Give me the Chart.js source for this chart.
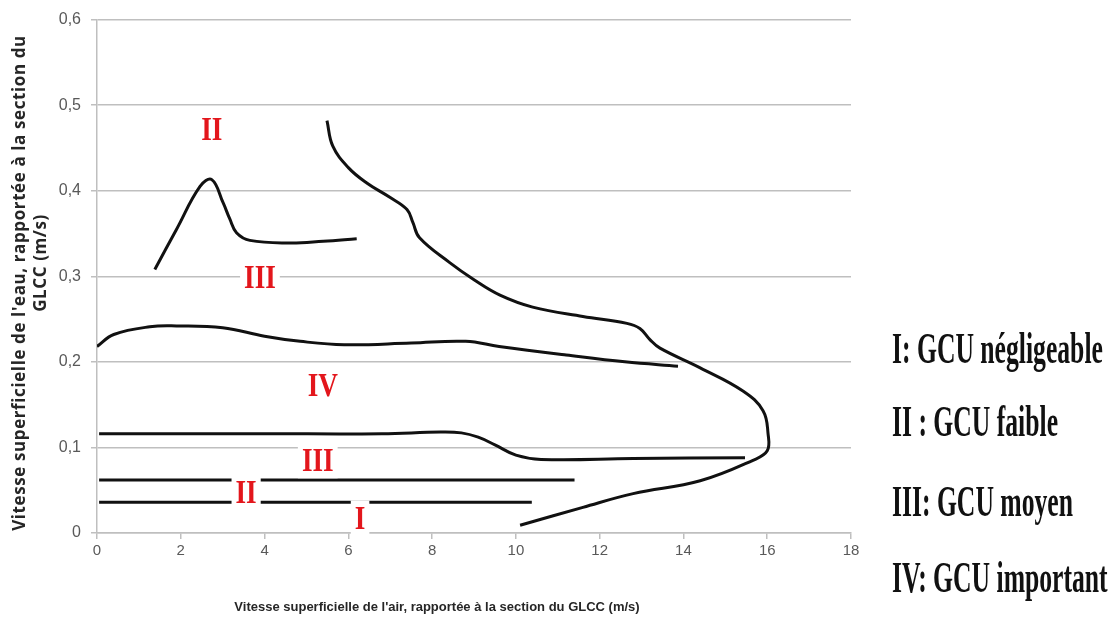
<!DOCTYPE html>
<html>
<head>
<meta charset="utf-8">
<script src="https://cdn.jsdelivr.net/npm/chart.js@4"></script>
<style>
  body { margin: 0; background: #fff; }
  #wrap { position: relative; width: 1115px; height: 625px; }
  .leg {
    position: absolute; left: 892px; white-space: nowrap;
    font-family: 'Liberation Serif', 'DejaVu Serif', serif; font-weight: bold;
    font-size: 45px; line-height: 45px; color: #111;
    transform: scaleX(0.57); transform-origin: left center;
  }
  .titre {
    position: absolute; white-space: nowrap; text-align: center;
    font-weight: bold; color: #262626;
  }
  .ty {
    width: 600px; height: 22px; line-height: 22px;
    font-family: 'Open Sans', sans-serif; font-size: 17px; letter-spacing: 0.6px;
    transform: rotate(-90deg); transform-origin: center center;
  }
  .tx {
    left: 182px; top: 598px; width: 510px; height: 18px; line-height: 18px;
    font-family: 'Liberation Sans', sans-serif; font-size: 13px;
  }
</style>
</head>
<body>
<div id="wrap">
  <canvas id="chart" width="1115" height="625"></canvas>
  <div class="titre ty" style="left:-281px; top:272px">Vitesse superficielle de l'eau, rapportée à la section du</div>
  <div class="titre ty" style="left:-260px; top:252px">GLCC  (m/s)</div>
  <div class="titre tx">Vitesse superficielle de l'air, rapportée à la section du GLCC  (m/s)</div>
  <div class="leg" style="top:326px">I: GCU négligeable</div>
  <div class="leg" style="top:399px">II : GCU faible</div>
  <div class="leg" style="top:479px">III: GCU moyen</div>
  <div class="leg" style="top:555px">IV: GCU important</div>
</div>
<script>
// axes
const xTicks = [0, 2, 4, 6, 8, 10, 12, 14, 16, 18];
const yTickLabels = ['0', '0,1', '0,2', '0,3', '0,4', '0,5', '0,6'];

// frontières entre régimes
const bosseX = [1.38, 1.9, 2.46, 2.74, 3.01, 3.17, 3.33, 3.65, 4.6, 5.4, 6.2];
const bosseY = [0.308, 0.355, 0.405, 0.413, 0.386, 0.367, 0.351, 0.342, 0.339, 0.341, 0.344];

const grandeX = [5.49, 5.63, 6.0, 6.44, 7.0, 7.4, 7.54, 7.7, 8.42, 9.0, 9.62, 10.4, 11.6, 12.65, 12.96, 13.2, 13.44, 14.4, 15.42, 15.9, 16.02, 16.0, 15.66, 14.4, 12.8, 11.6, 10.1];
const grandeY = [0.482, 0.452, 0.427, 0.409, 0.392, 0.378, 0.363, 0.345, 0.316, 0.296, 0.278, 0.264, 0.253, 0.245, 0.239, 0.226, 0.216, 0.193, 0.166, 0.143, 0.116, 0.096, 0.085, 0.061, 0.046, 0.030, 0.009];

const hautIVX = [0, 0.4, 1.26, 1.9, 3.0, 4.0, 4.85, 5.9, 7.5, 8.8, 9.6, 11.2, 12.6, 13.87];
const hautIVY = [0.218, 0.232, 0.241, 0.242, 0.240, 0.230, 0.224, 0.220, 0.222, 0.224, 0.218, 0.208, 0.200, 0.195];

const basIVX = [0.05, 4.0, 6.8, 8.2, 8.7, 9.1, 9.5, 10.0, 10.6, 12.8, 15.47];
const basIVY = [0.116, 0.116, 0.116, 0.118, 0.117, 0.112, 0.103, 0.091, 0.086, 0.087, 0.088];

const ligneIIX = [0.05, 11.4];
const ligneIIY = [0.062, 0.062];

const ligneIX = [0.05, 10.38];
const ligneIY = [0.036, 0.036];

// étiquettes des régions
const regions = ['II', 'III', 'IV', 'III', 'II', 'I'];
const regionX = [2.74, 3.89, 5.39, 5.27, 3.56, 6.28];
const regionY = [0.472, 0.299, 0.173, 0.085, 0.048, 0.017];

const courbes = [
  [bosseX, bosseY], [grandeX, grandeY], [hautIVX, hautIVY],
  [basIVX, basIVY], [ligneIIX, ligneIIY], [ligneIX, ligneIY]
];

const datasets = courbes.map(([xs, ys]) => ({
  data: xs.map((x, i) => ({ x: x, y: ys[i] })),
  borderColor: '#111',
  borderWidth: 3,
  pointRadius: 0,
  tension: 0.4,
  fill: false
}));

// chiffres romains rouges avec fond blanc
const etiquettes = {
  id: 'etiquettes',
  afterDraw(chart) {
    const ctx = chart.ctx;
    const sx = chart.scales.x, sy = chart.scales.y;
    ctx.save();
    ctx.font = 'bold 34px "Liberation Serif", serif';
    ctx.textAlign = 'center';
    ctx.textBaseline = 'middle';
    regions.forEach((txt, i) => {
      const px = sx.getPixelForValue(regionX[i]);
      const py = sy.getPixelForValue(regionY[i]);
      const w = ctx.measureText(txt).width * 0.8;
      ctx.fillStyle = '#fff';
      ctx.fillRect(px - w / 2 - 4, py - 18, w + 8, 36);
      ctx.save();
      ctx.translate(px, py + 2);
      ctx.scale(0.8, 1);
      ctx.fillStyle = '#e3161c';
      ctx.fillText(txt, 0, 0);
      ctx.restore();
    });
    ctx.restore();
  }
};

new Chart(document.getElementById('chart'), {
  type: 'line',
  data: { datasets: datasets },
  options: {
    responsive: false,
    animation: false,
    layout: { padding: { top: 15, right: 264, left: 0, bottom: 0 } },
    plugins: { legend: { display: false }, tooltip: { enabled: false } },
    scales: {
      x: {
        type: 'linear',
        min: 0, max: 18,
        afterBuildTicks: (s) => { s.ticks = xTicks.map(v => ({ value: v })); },
        afterFit: (s) => { s.height = 92; },
        grid: { drawOnChartArea: false, tickLength: 6, color: '#bfbfbf', lineWidth: 1.5 },
        border: { color: '#bfbfbf', width: 1.5 },
        ticks: { color: '#595959', font: { family: 'Liberation Sans', size: 15 }, padding: 3 }
      },
      y: {
        type: 'linear',
        min: 0, max: 0.6,
        ticks: {
          stepSize: 0.1,
          color: '#595959',
          font: { family: 'Liberation Sans', size: 16 },
          padding: 10,
          callback: (v, i) => yTickLabels[i]
        },
        afterFit: (s) => { s.width = 97; },
        grid: { color: '#bfbfbf', lineWidth: 1.5, tickLength: 6 },
        border: { color: '#bfbfbf', width: 1.5 }
      }
    }
  },
  plugins: [etiquettes]
});
</script>
</body>
</html>
